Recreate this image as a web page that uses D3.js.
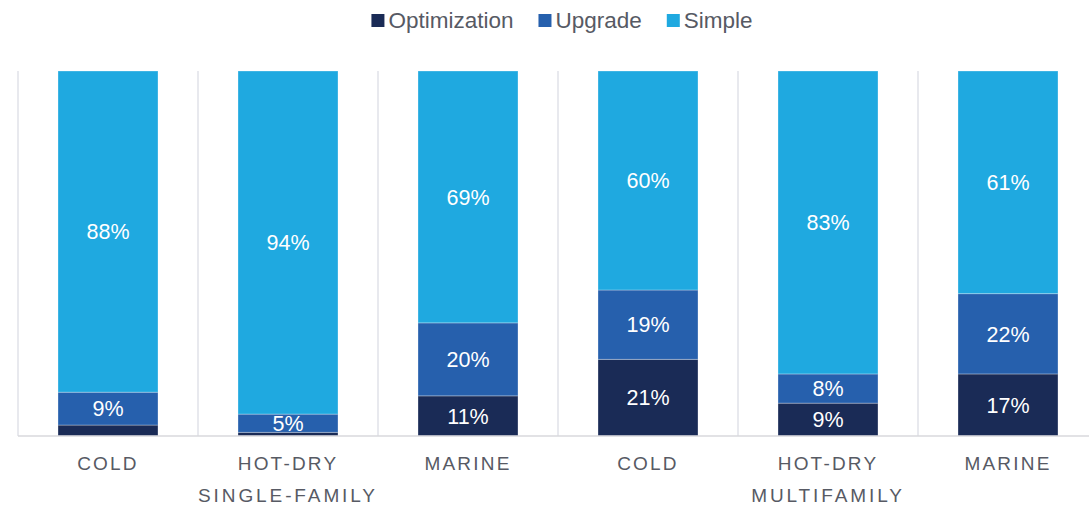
<!DOCTYPE html>
<html>
<head>
<meta charset="utf-8">
<script src="https://cdn.jsdelivr.net/npm/d3@7/dist/d3.min.js"></script>
<style>
  html, body { margin: 0; padding: 0; background: #fff; }
  svg { display: block; }
  text { font-family: "Liberation Sans", Arial, sans-serif; }
</style>
</head>
<body>
<svg id="chart" width="1089" height="506"></svg>
<script>
// Climate zones, grouped by building type
const categories = ["COLD", "HOT-DRY", "MARINE", "COLD", "HOT-DRY", "MARINE"];
const groups = ["SINGLE-FAMILY", "MULTIFAMILY"];
const groupSize = 3;

// Share of projects by pathway (percent)
const seriesNames = ["Optimization", "Upgrade", "Simple"];
const optimization = [3, 1, 11, 21, 9, 17];
const upgrade = [9, 5, 20, 19, 8, 22];
const simple = [88, 94, 69, 60, 83, 61];

const colors = ["#1a2b56", "#2660ad", "#1fa9e0"];
const textColor = "#575a64";

const rows = categories.map((c, i) => ({
  idx: i,
  Optimization: optimization[i],
  Upgrade: upgrade[i],
  Simple: simple[i]
}));

const svg = d3.select("#chart");
const plotTop = 71, plotBottom = 436, plotLeft = 18, plotRight = 1098;

const x = d3.scaleBand()
  .domain(d3.range(categories.length))
  .range([plotLeft, plotRight])
  .paddingInner(80 / 180)
  .paddingOuter(40 / 180);

const y = d3.scaleLinear().domain([0, 100]).range([plotBottom, plotTop]);

const half = x.step() * x.paddingInner() / 2;

// vertical separators between categories
svg.append("g")
  .selectAll("line")
  .data(d3.range(categories.length))
  .join("line")
  .attr("x1", i => x(i) - half)
  .attr("x2", i => x(i) - half)
  .attr("y1", y(100))
  .attr("y2", y(0))
  .attr("stroke", "#e1e2e8")
  .attr("stroke-width", 1.5);

const stack = d3.stack().keys(seriesNames)(rows);

const layer = svg.append("g")
  .selectAll("g")
  .data(stack)
  .join("g")
  .attr("fill", (d, i) => colors[i]);

layer.selectAll("rect")
  .data(d => d)
  .join("rect")
  .attr("x", d => x(d.data.idx))
  .attr("width", x.bandwidth())
  .attr("y", d => y(d[1]))
  .attr("height", d => y(d[0]) - y(d[1]))
  .attr("stroke", "rgba(255,255,255,0.3)")
  .attr("stroke-width", 1);

// value labels for segments large enough to hold them
layer.selectAll("text")
  .data(d => d.filter(s => s[1] - s[0] >= 5))
  .join("text")
  .attr("x", d => x(d.data.idx) + x.bandwidth() / 2)
  .attr("y", d => (y(d[0]) + y(d[1])) / 2)
  .attr("dy", "0.36em")
  .attr("text-anchor", "middle")
  .attr("fill", "#ffffff")
  .attr("font-size", 21.5)
  .text(d => Math.round(d[1] - d[0]) + "%");

// baseline
svg.append("line")
  .attr("x1", plotLeft).attr("x2", plotRight)
  .attr("y1", y(0)).attr("y2", y(0))
  .attr("stroke", "#d9d9dc")
  .attr("stroke-width", 1.5);

// category axis
const axis = d3.axisBottom(x).tickSize(0).tickFormat(i => categories[i]);
const axisG = svg.append("g")
  .attr("transform", `translate(0,${y(0)})`)
  .call(axis);
axisG.select(".domain").remove();
axisG.selectAll("text")
  .attr("y", 34)
  .attr("dy", null)
  .attr("font-size", 19)
  .attr("letter-spacing", "2.2px")
  .attr("fill", textColor)
  .attr("font-family", "Liberation Sans, Arial, sans-serif");

// group labels
svg.append("g")
  .selectAll("text")
  .data(groups)
  .join("text")
  .attr("x", (g, i) => {
    const a = x(i * groupSize) - half;
    const b = x(i * groupSize + groupSize - 1) + x.bandwidth() + half;
    return (a + b) / 2;
  })
  .attr("y", 502)
  .attr("text-anchor", "middle")
  .attr("font-size", 19)
  .attr("letter-spacing", "2.9px")
  .attr("fill", textColor)
  .text(d => d);

// legend
const legend = svg.append("g");
const items = legend.selectAll("g")
  .data(seriesNames)
  .join("g");
items.append("rect")
  .attr("width", 13).attr("height", 13)
  .attr("y", 14)
  .attr("fill", (d, i) => colors[i]);
items.append("text")
  .attr("x", 17)
  .attr("y", 20)
  .attr("dy", "0.36em")
  .attr("font-size", 22.5)
  .attr("font-family", "'Open Sans', sans-serif")
  .attr("fill", textColor)
  .text(d => d);

const widths = [];
items.each(function () { widths.push(this.getBBox().width); });
const gap = 25;
const total = d3.sum(widths) + gap * (widths.length - 1);
let cursor = 562 - total / 2;
items.attr("transform", (d, i) => {
  const t = `translate(${cursor},0)`;
  cursor += widths[i] + gap;
  return t;
});
</script>
</body>
</html>
